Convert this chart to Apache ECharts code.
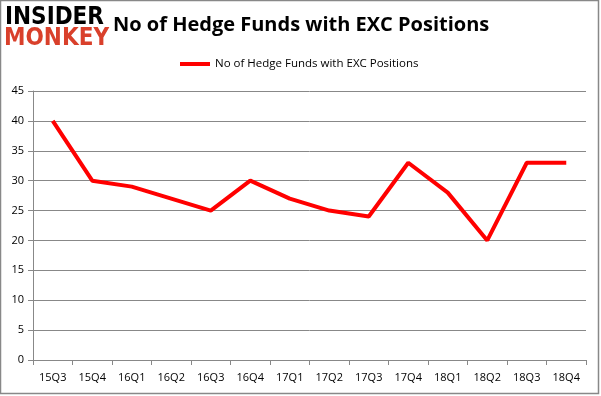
<!DOCTYPE html>
<html>
<head>
<meta charset="utf-8">
<script src="https://cdn.jsdelivr.net/npm/echarts@6/dist/echarts.min.js"></script>
<style>
  html, body { margin: 0; padding: 0; background: #fff; }
  #chart { width: 601px; height: 396px; }
</style>
</head>
<body>
<div id="chart"></div>
<script>
// quarters on the x axis
var quarters = ['15Q3', '15Q4', '16Q1', '16Q2', '16Q3', '16Q4', '17Q1', '17Q2', '17Q3', '17Q4', '18Q1', '18Q2', '18Q3', '18Q4'];
// number of hedge funds holding EXC
var hedgeFunds = [40, 30, 29, 27, 25, 30, 27, 25, 24, 33, 28, 20, 33, 33];
var yTicks = [0, 5, 10, 15, 20, 25, 30, 35, 40, 45];

var seriesName = 'No of Hedge Funds with EXC Positions';
var font = '"Open Sans", "Noto Sans", sans-serif';

var chart = echarts.init(document.getElementById('chart'));

var option = {
  animation: false,
  title: {
    text: 'No of Hedge Funds with EXC Positions',
    left: 108,
    top: 10,
    textStyle: { fontFamily: font, fontWeight: 'bold', fontSize: 20, color: '#000' }
  },
  legend: {
    top: 53,
    left: 175,
    itemWidth: 30,
    itemHeight: 4,
    itemGap: 3,
    icon: 'rect',
    textStyle: { fontFamily: font, fontSize: 11.5, color: '#000' },
    data: [seriesName]
  },
  grid: { left: 33, right: 15, top: 91, bottom: 36 },
  xAxis: {
    type: 'category',
    data: quarters,
    boundaryGap: true,
    axisLine: { lineStyle: { color: '#888', width: 1 } },
    axisTick: { show: true, length: 5, lineStyle: { color: '#888' } },
    axisLabel: { fontFamily: font, fontSize: 11, color: '#000', margin: 12 }
  },
  yAxis: {
    type: 'value',
    min: yTicks[0],
    max: yTicks[yTicks.length - 1],
    interval: 5,
    axisLine: { show: true, lineStyle: { color: '#888', width: 1 } },
    axisTick: { show: true, length: 5, lineStyle: { color: '#888' } },
    splitLine: { lineStyle: { color: '#888', width: 1 } },
    axisLabel: { fontFamily: font, fontSize: 11, color: '#000', margin: 9 }
  },
  series: [{
    name: seriesName,
    type: 'line',
    data: hedgeFunds,
    symbol: 'none',
    color: '#ff0000',
    lineStyle: { color: '#ff0000', width: 4 }
  }],
  graphic: [
    // frame around the picture
    {
      type: 'rect',
      shape: { x: 0.5, y: 0.5, width: 598, height: 393 },
      style: { fill: 'none', stroke: '#888', lineWidth: 1.5 }
    },
    // logo
    {
      type: 'text',
      left: 5,
      top: 6,
      style: { text: 'INSIDER', fill: '#000', font: 'bold 24px "DejaVu Sans Condensed", "DejaVu Sans", sans-serif' }
    },
    {
      type: 'text',
      left: 4,
      top: 27,
      style: { text: 'MONKEY', fill: '#d9402b', font: 'bold 24px "DejaVu Sans Condensed", "DejaVu Sans", sans-serif' }
    }
  ]
};

chart.setOption(option);
</script>
</body>
</html>
